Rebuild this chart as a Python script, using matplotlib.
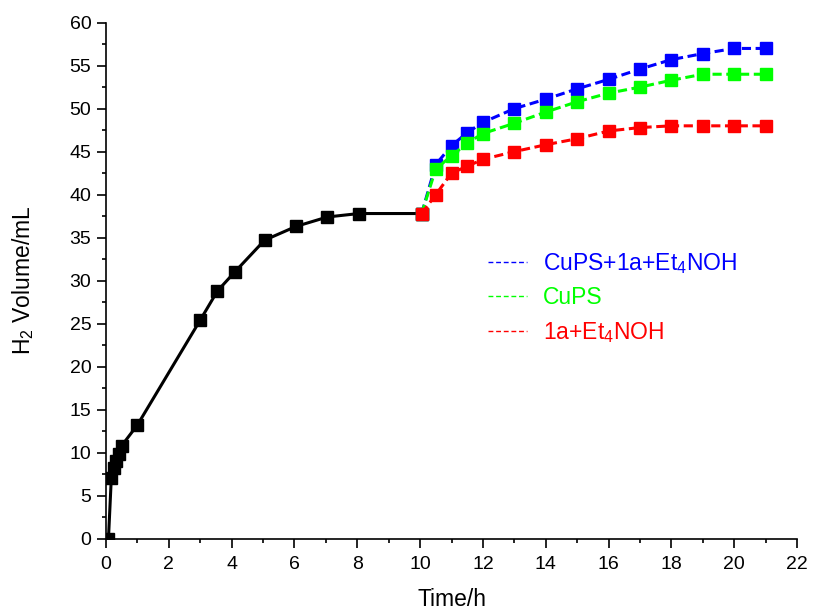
import matplotlib
matplotlib.use("Agg")
import matplotlib.pyplot as plt
from matplotlib.lines import Line2D
from matplotlib.ticker import MultipleLocator

plt.rcParams['font.family'] = ['Liberation Sans', 'DejaVu Sans']
plt.rcParams['mathtext.fontset'] = 'custom'
plt.rcParams['mathtext.rm'] = 'Liberation Sans'
plt.rcParams['mathtext.it'] = 'Liberation Sans'

# shared first stage (0-10 h)
t_base = [0.08, 0.17, 0.25, 0.33, 0.42, 0.5, 1.0, 3.0, 3.55, 4.1, 5.05, 6.05, 7.05, 8.05, 10.05]
v_base = [0.0, 7.0, 8.2, 9.0, 9.8, 10.8, 13.2, 25.4, 28.8, 31.0, 34.7, 36.3, 37.4, 37.8, 37.8]

# second stage (10-21 h)
t_add = [10.05, 10.5, 11.0, 11.5, 12.0, 13.0, 14.0, 15.0, 16.0, 17.0, 18.0, 19.0, 20.0, 21.0]
v_all = [37.8, 43.5, 45.7, 47.2, 48.4, 50.0, 51.1, 52.3, 53.4, 54.6, 55.7, 56.4, 57.0, 57.0]
v_cups = [37.8, 43.0, 44.5, 46.0, 47.1, 48.3, 49.6, 50.8, 51.8, 52.5, 53.3, 54.0, 54.0, 54.0]
v_1a = [37.8, 40.0, 42.5, 43.3, 44.1, 45.0, 45.8, 46.5, 47.4, 47.8, 48.0, 48.0, 48.0, 48.0]

labels = ['CuPS+1a+Et$_4$NOH', 'CuPS', '1a+Et$_4$NOH']
colors = ['#0000ff', '#00ff00', '#ff0000']

fig = plt.figure(figsize=(8.15, 6.12), dpi=100)
ax = fig.add_axes([0.130, 0.120, 0.848, 0.843])

ax.plot(t_base, v_base, color='black', lw=2.2, marker='s', ms=8.2)
for v, c in zip([v_all, v_cups, v_1a], colors):
    ax.plot(t_add, v, color=c, lw=2.2, ls=(0, (3, 1.5)), marker='s', ms=8.2)

ax.set_xlim(0, 22)
ax.set_ylim(0, 60)
ax.xaxis.set_major_locator(MultipleLocator(2))
ax.xaxis.set_minor_locator(MultipleLocator(1))
ax.yaxis.set_major_locator(MultipleLocator(5))
ax.yaxis.set_minor_locator(MultipleLocator(2.5))
ax.tick_params(which='major', direction='out', length=6.5, width=1.2, labelsize=14)
ax.tick_params(which='minor', direction='out', length=3, width=1.2)
ax.tick_params(axis='x', which='major', pad=6)
ax.tick_params(axis='y', which='major', pad=4)
for s in ['top', 'right']:
    ax.spines[s].set_visible(False)
for s in ['left', 'bottom']:
    ax.spines[s].set_linewidth(1.2)

ax.set_xlabel('Time/h', fontsize=16.5, labelpad=11)
ax.set_ylabel('H$_2$ Volume/mL', fontsize=16.5, labelpad=24)

handles = [Line2D([], [], color=c, lw=1.0, ls=(0, (3.5, 2))) for c in colors]
ax.legend(handles, labels, loc='upper left', bbox_to_anchor=(0.553, 0.557),
          frameon=False, fontsize=16.5, labelcolor=colors, handlelength=1.7,
          handletextpad=0.7, labelspacing=0.45, borderpad=0, borderaxespad=0)

fig.savefig('out.png', dpi=100)
